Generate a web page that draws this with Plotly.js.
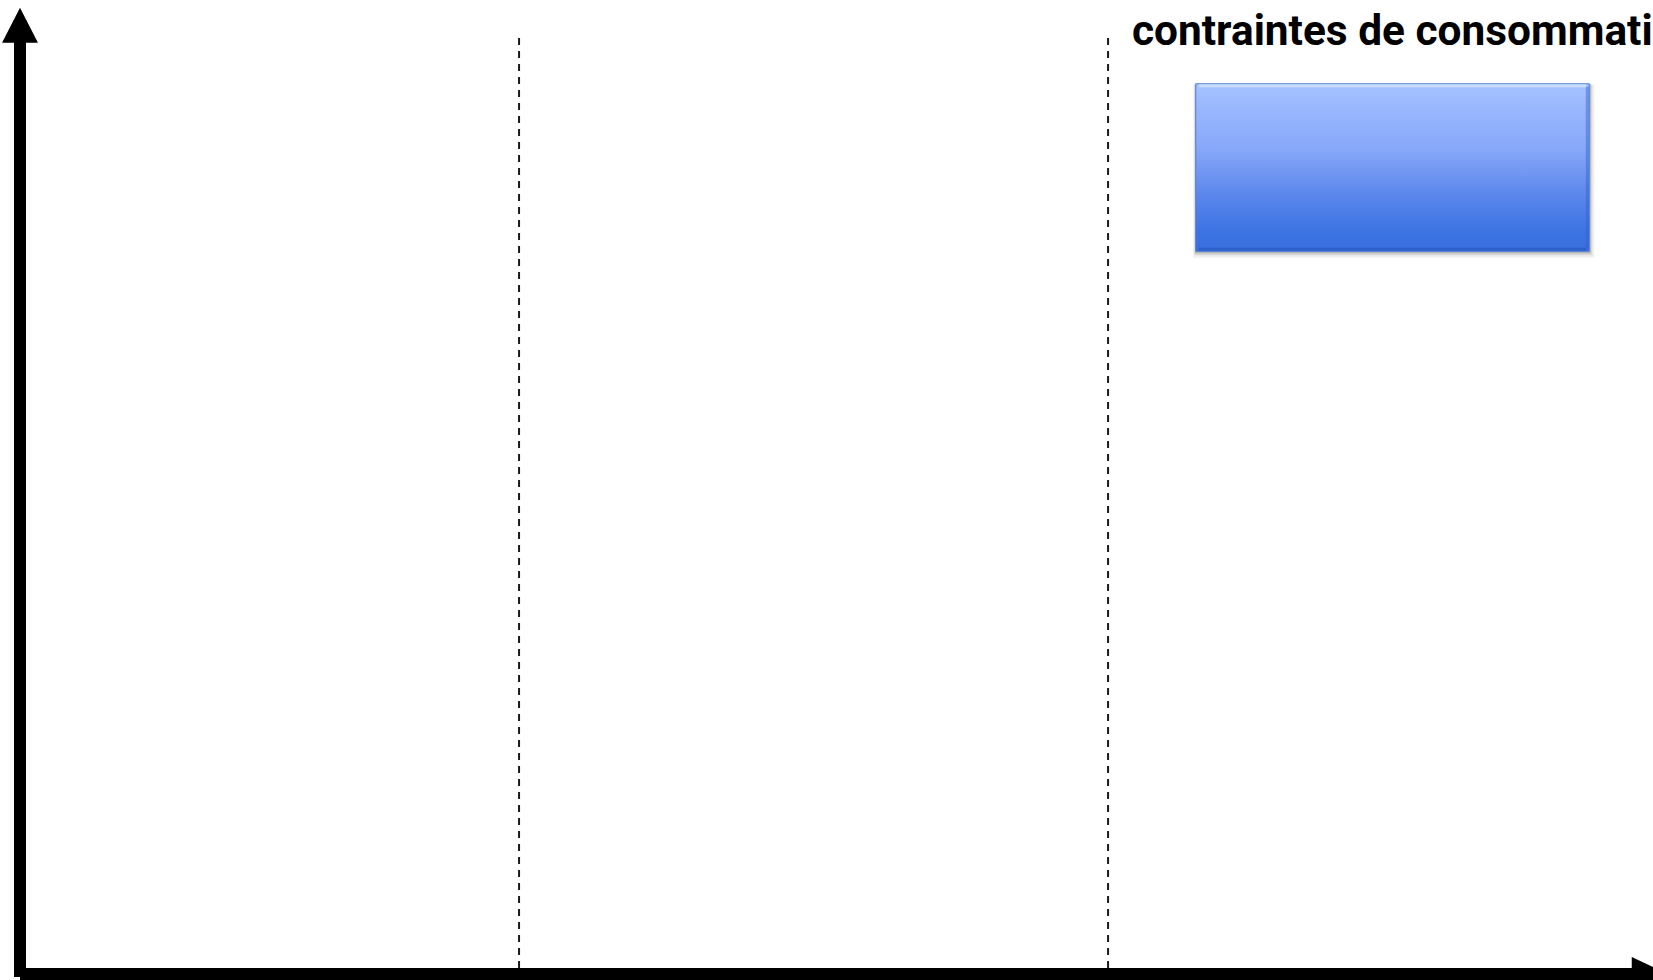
<!DOCTYPE html>
<html>
<head>
<meta charset="utf-8">
<script src="https://cdn.plot.ly/plotly-3.0.1.min.js"></script>
<style>html,body{margin:0;padding:0;background:#fff;overflow:hidden}#chart{width:1653px;height:980px}</style>
</head>
<body>
<div id="chart"></div>
<script>
// ---- data (axis units: x = time 0..100, y = level 0..100) ----
const dividerX = [30.56, 66.63];          // dashed phase separators
const dividerYRange = [96.1, 0];          // vertical extent of separators (top -> bottom)
const boxXRange = [72.0, 96.1];           // blue block, horizontal extent
const boxYRange = [74.2, 91.4];           // blue block, vertical extent
const labelLines = ["contraintes de consommati"];   // text as visible in the reference
const labelPos = {x: 68.0, y: 96.9};
const xRange = [-1.225, 100];
const yRange = [-0.616, 100];
const yArrowTop = 99.2, yArrowBase = 95.6;
const xArrowTip = 100.9, xArrowBase = 98.7;

const traces = [];

// dashed separators
dividerX.forEach(x => {
  traces.push({
    type: 'scatter', mode: 'lines', x: [x, x], y: dividerYRange,
    line: {color: '#1a1a1a', width: 2, dash: '7px,6px'},
    hoverinfo: 'skip', showlegend: false
  });
});

// blue block: soft shadow + gradient body + bevel edges
const bx = [boxXRange[0], boxXRange[1], boxXRange[1], boxXRange[0], boxXRange[0]];
const by = [boxYRange[0], boxYRange[0], boxYRange[1], boxYRange[1], boxYRange[0]];
const px = 0.0612, py = 0.1027;
[[5, 'rgba(0,0,0,0.06)'], [3, 'rgba(0,0,0,0.10)'], [1.5, 'rgba(0,0,0,0.16)']].forEach(([o, c]) => {
  traces.push({
    type: 'scatter', mode: 'lines',
    x: bx.map((v, i) => v + (i === 0 || i === 3 || i === 4 ? -o * px * 0.5 : o * px)),
    y: by.map((v, i) => v + (i < 2 || i === 4 ? -o * py * 1.3 : -o * py * 0.2)),
    fill: 'toself', fillcolor: c, line: {width: 0}, hoverinfo: 'skip', showlegend: false
  });
});
traces.push({
  type: 'scatter', mode: 'lines', x: bx, y: by, fill: 'toself',
  fillgradient: {
    type: 'vertical', start: boxYRange[0], stop: boxYRange[1],
    colorscale: [[0, '#3a6edd'], [0.12, '#3c74e3'], [0.35, '#5d88ec'], [0.6, '#86a7f8'], [0.85, '#99b7fe'], [1, '#a6c2ff']]
  },
  line: {color: '#4f7fdc', width: 1}, hoverinfo: 'skip', showlegend: false
});
// bevel: top highlight and lower darker edge
traces.push({
  type: 'scatter', mode: 'lines',
  x: [boxXRange[0] + 3 * px, boxXRange[1] - 3 * px], y: [boxYRange[1] - 2 * py, boxYRange[1] - 2 * py],
  line: {color: 'rgba(215,230,255,0.75)', width: 3}, hoverinfo: 'skip', showlegend: false
});
traces.push({
  type: 'scatter', mode: 'lines',
  x: [boxXRange[0] + 3 * px, boxXRange[1] - 3 * px], y: [boxYRange[0] + 2 * py, boxYRange[0] + 2 * py],
  line: {color: 'rgba(40,85,185,0.6)', width: 3}, hoverinfo: 'skip', showlegend: false
});
traces.push({
  type: 'scatter', mode: 'lines',
  x: [boxXRange[1] - 2 * px, boxXRange[1] - 2 * px], y: [boxYRange[0] + 3 * py, boxYRange[1] - 3 * py],
  line: {color: 'rgba(50,95,200,0.45)', width: 3}, hoverinfo: 'skip', showlegend: false
});

const shapes = [
  // y axis shaft
  {type: 'line', xref: 'x', yref: 'y', x0: 0, x1: 0, y0: -0.31, y1: yArrowBase + 0.2,
   line: {color: '#000', width: 12}},
  // x axis shaft
  {type: 'line', xref: 'x', yref: 'y', x0: 0, x1: xArrowBase + 0.1, y0: 0, y1: 0,
   line: {color: '#000', width: 12}},
  // y arrow head
  {type: 'path', xref: 'x', yref: 'y',
   path: `M ${-1.1} ${yArrowBase} L ${1.1} ${yArrowBase} L 0 ${yArrowTop} Z`,
   fillcolor: '#000', line: {width: 0}},
  // x arrow head
  {type: 'path', xref: 'x', yref: 'y',
   path: `M ${xArrowBase} ${-1.75} L ${xArrowTip} 0 L ${xArrowBase} ${1.75} Z`,
   fillcolor: '#000', line: {width: 0}}
];

const layout = {
  width: 1653, height: 980,
  margin: {l: 0, r: 0, t: 0, b: 0, pad: 0},
  paper_bgcolor: '#fff', plot_bgcolor: '#fff',
  xaxis: {range: xRange, visible: false, fixedrange: true},
  yaxis: {range: yRange, visible: false, fixedrange: true},
  showlegend: false,
  shapes: shapes,
  annotations: [{
    xref: 'x', yref: 'y', x: labelPos.x, y: labelPos.y, xanchor: 'left', yanchor: 'middle',
    text: labelLines.join('<br>'), showarrow: false, align: 'left',
    font: {family: 'Roboto, "Noto Sans", sans-serif', size: 42.4, weight: 700, color: '#000'}
  }]
};

Plotly.newPlot('chart', traces, layout, {displayModeBar: false, staticPlot: true});
</script>
</body>
</html>
